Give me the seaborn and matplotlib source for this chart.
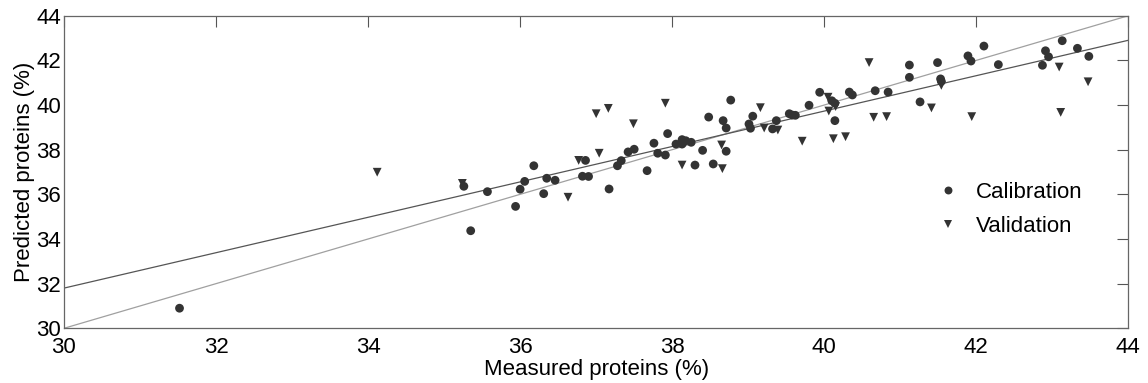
import matplotlib
matplotlib.use("Agg")
import matplotlib.pyplot as plt
import seaborn as sns
import pandas as pd
import numpy as np

# ---- data ----
cal_x = [31.52, 35.26, 35.57, 35.35, 35.94, 36.00, 36.06, 36.18, 36.35, 36.31,
         36.46, 36.86, 36.82, 36.90, 37.17, 37.28, 37.33, 37.42, 37.50, 37.67,
         37.76, 37.81, 37.91, 37.94, 38.05, 38.13, 38.18, 38.13, 38.25, 38.30,
         38.40, 38.48, 38.54, 38.67, 38.71, 38.71, 38.77, 39.01, 39.03, 39.06,
         39.32, 39.37, 39.54, 39.58, 39.62, 39.80, 39.94, 40.10, 40.14, 40.14,
         40.33, 40.37, 40.67, 40.84, 41.12, 41.12, 41.26, 41.49, 41.53, 41.54,
         41.89, 41.93, 42.10, 42.29, 42.87, 42.91, 42.95, 43.13, 43.33, 43.48]
cal_y = [30.90, 36.36, 36.12, 34.37, 35.46, 36.23, 36.58, 37.28, 36.72, 36.03,
         36.63, 37.52, 36.81, 36.80, 36.24, 37.28, 37.51, 37.90, 38.02, 37.06,
         38.29, 37.84, 37.76, 38.72, 38.25, 38.45, 38.40, 38.25, 38.33, 37.31,
         37.97, 39.46, 37.36, 39.30, 38.97, 37.93, 40.22, 39.15, 38.96, 39.50,
         38.93, 39.30, 39.61, 39.55, 39.54, 39.99, 40.57, 40.19, 40.08, 39.30,
         40.58, 40.45, 40.64, 40.58, 41.79, 41.24, 40.14, 41.90, 41.17, 41.06,
         42.20, 41.97, 42.64, 41.81, 41.78, 42.43, 42.16, 42.88, 42.54, 42.18]

val_x = [34.12, 35.24, 36.63, 36.77, 37.00, 37.04, 37.16, 37.49, 37.91, 38.13,
         38.65, 38.66, 39.16, 39.21, 39.39, 39.71, 40.05, 40.06, 40.15, 40.12,
         40.28, 40.59, 40.65, 40.82, 41.41, 41.54, 41.94, 43.09, 43.11, 43.47]
val_y = [36.99, 36.49, 35.87, 37.52, 39.61, 37.84, 39.85, 39.16, 40.08, 37.31,
         38.21, 37.15, 39.88, 38.97, 38.88, 38.38, 40.35, 39.73, 39.93, 38.49,
         38.58, 41.90, 39.45, 39.48, 39.87, 40.88, 39.48, 41.70, 39.67, 41.04]

fit_x = [30, 44]
fit_y = [31.8, 42.9]
ident_x = [30, 44]
ident_y = [30, 44]

ticks = [30, 32, 34, 36, 38, 40, 42, 44]

# ---- build table ----
df = pd.DataFrame({
    "Measured": cal_x + val_x,
    "Predicted": cal_y + val_y,
    "Set": ["Calibration"] * len(cal_x) + ["Validation"] * len(val_x),
})

sns.set_theme(style="white")
plt.rcParams["font.family"] = ["Liberation Sans", "DejaVu Sans"]
plt.rcParams["text.color"] = "black"
plt.rcParams["axes.labelcolor"] = "black"

fig = plt.figure(figsize=(11.48, 3.83), dpi=100)
ax = fig.add_axes([0.0557, 0.1428, 0.9272, 0.8162])

ax.plot(ident_x, ident_y, color="#a0a0a0", lw=0.9, zorder=1)
ax.plot(fit_x, fit_y, color="#555555", lw=0.9, zorder=1)

sns.scatterplot(data=df, x="Measured", y="Predicted", style="Set",
                markers={"Calibration": "o", "Validation": "v"},
                color="#333333", s=40, linewidth=0, ax=ax, zorder=3)

ax.set_xlim(30, 44)
ax.set_ylim(30, 44)
ax.set_xticks(ticks)
ax.set_yticks(ticks)
ax.tick_params(direction="in", length=8, width=0.8, color="#555555",
               top=True, right=True, labelsize=16, labelcolor="black")
ax.tick_params(axis="x", pad=6)
ax.tick_params(axis="y", pad=2)
for sp in ax.spines.values():
    sp.set_color("#666666")
    sp.set_linewidth(0.9)

ax.set_xlabel("Measured proteins (%)", fontsize=16, labelpad=1)
ax.set_ylabel("Predicted proteins (%)", fontsize=16, labelpad=1)

leg = ax.legend(loc="center left", bbox_to_anchor=(0.7906, 0.38), frameon=False,
                fontsize=16, handletextpad=0.25, labelspacing=0.6,
                markerscale=0.9, title=None)
for t in leg.get_texts():
    t.set_color("black")

fig.savefig("out.png", dpi=100)
